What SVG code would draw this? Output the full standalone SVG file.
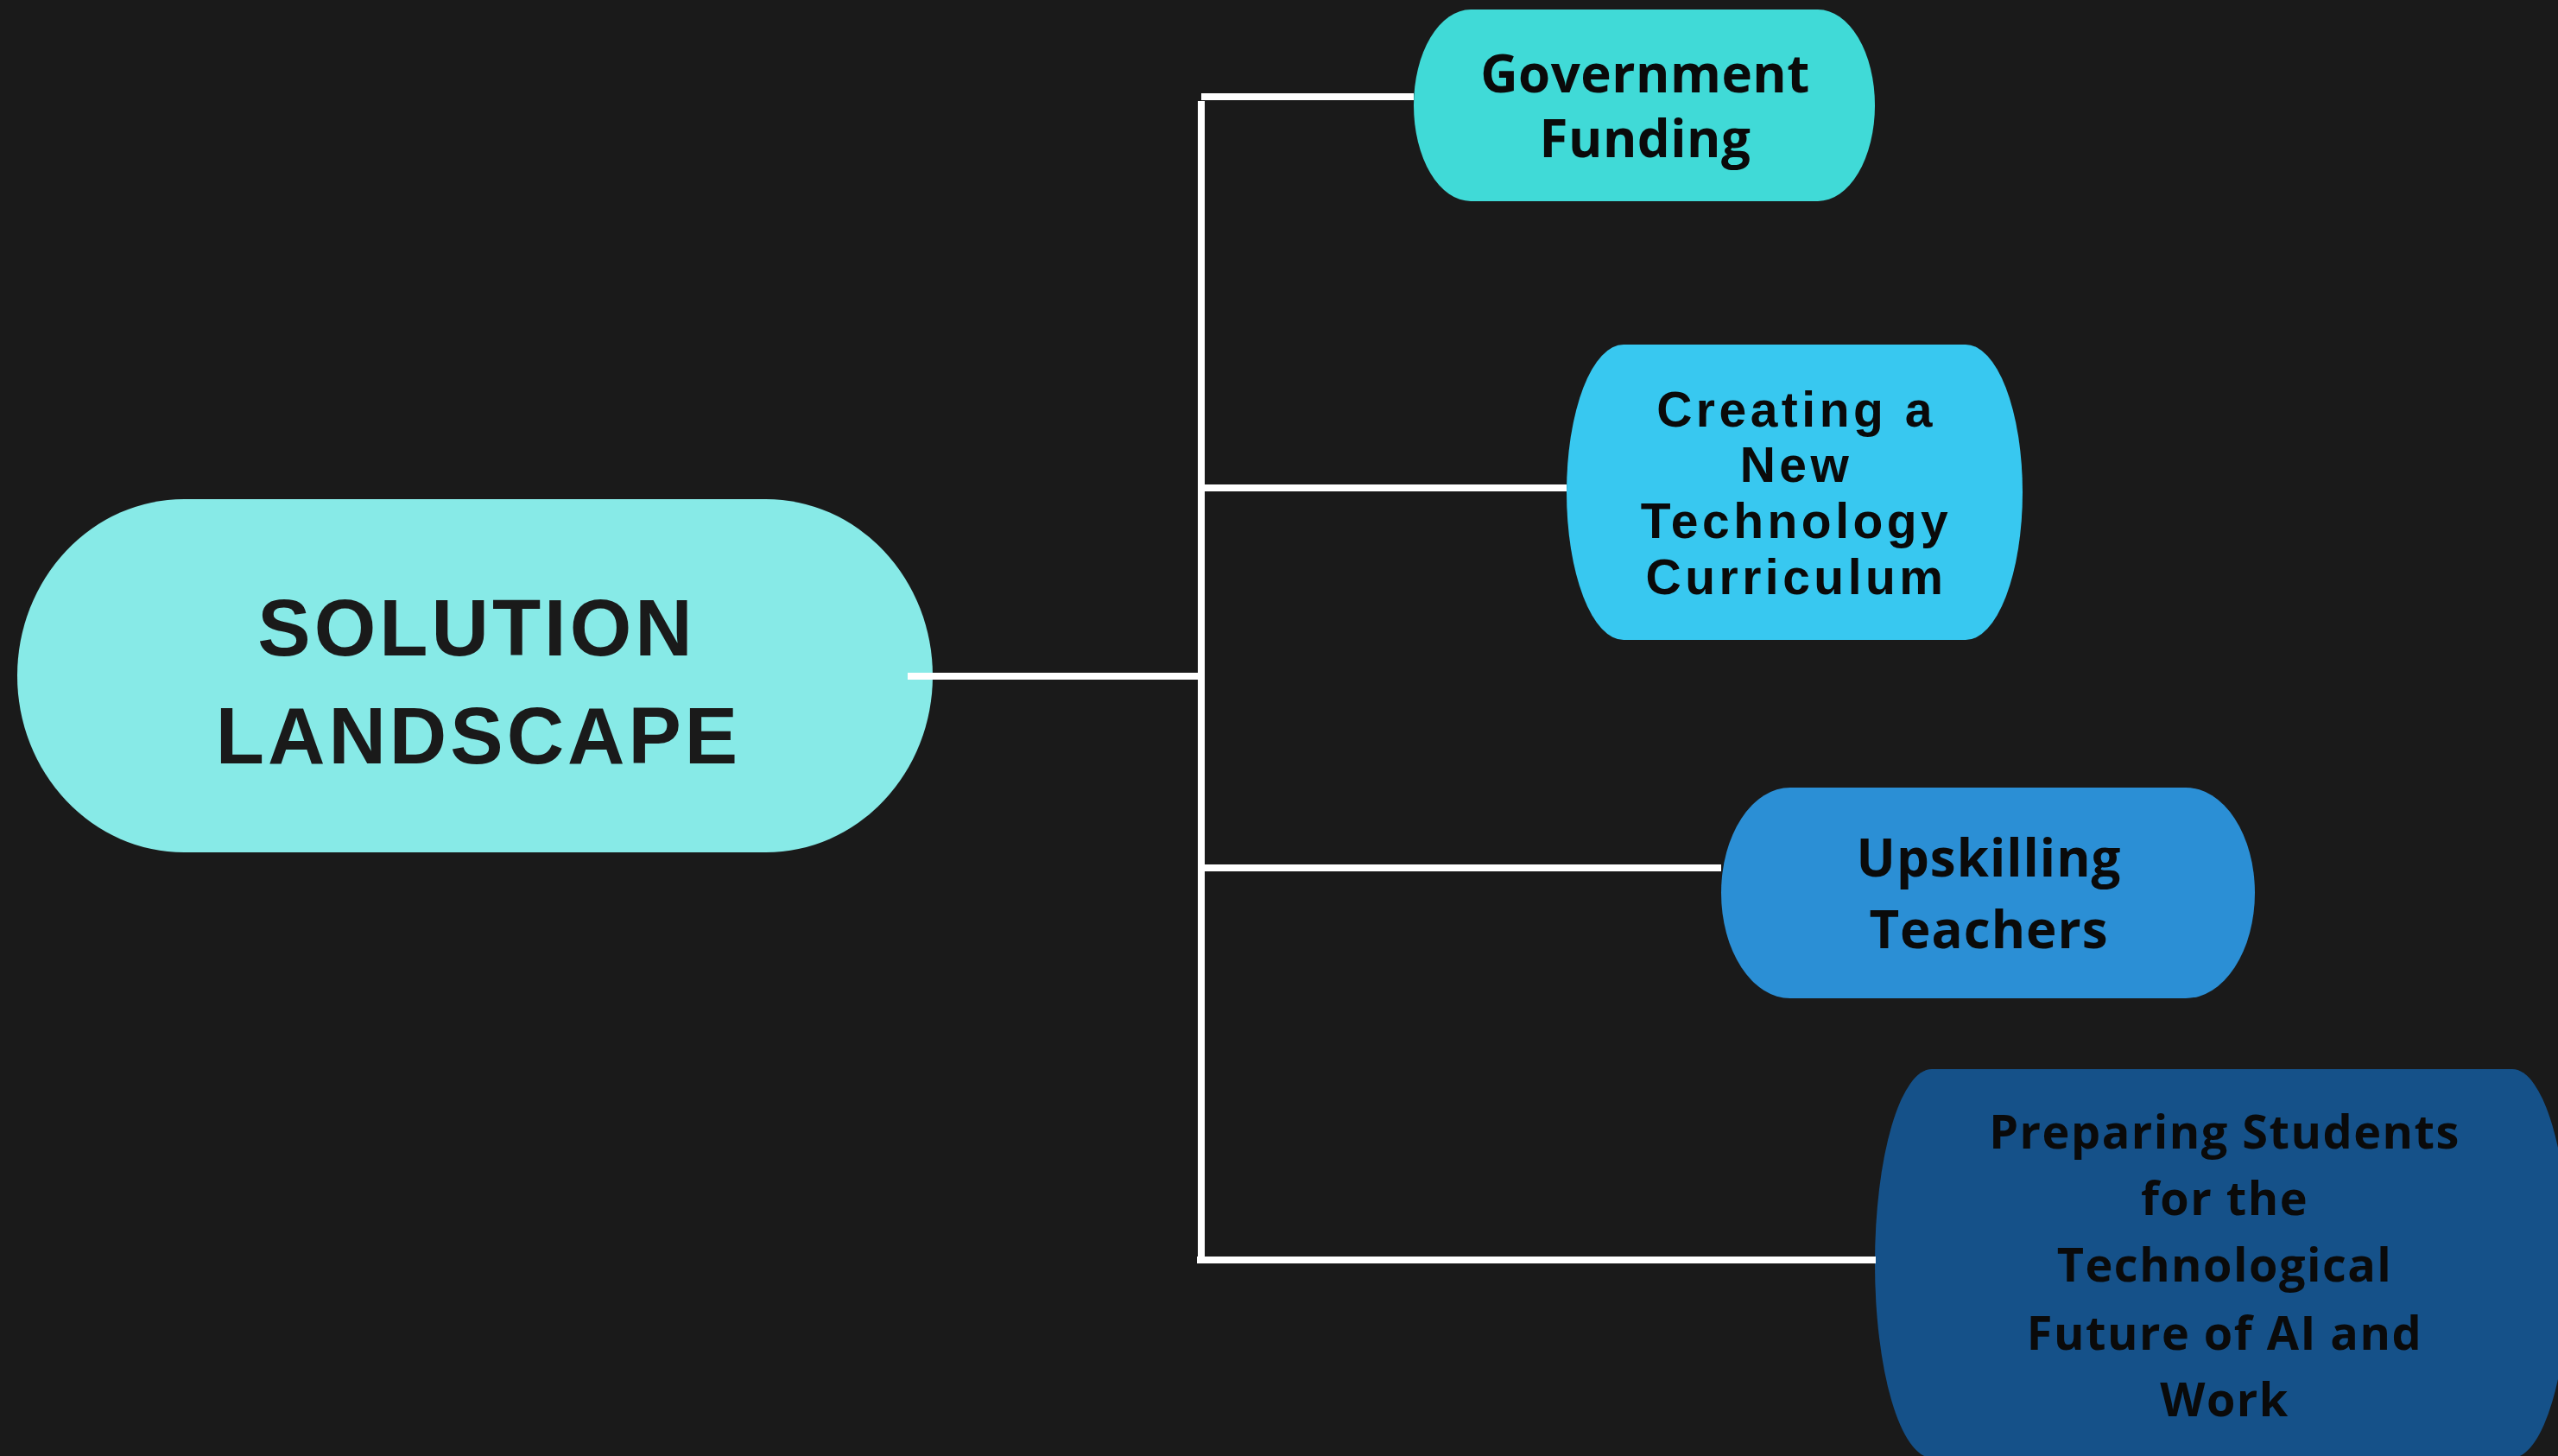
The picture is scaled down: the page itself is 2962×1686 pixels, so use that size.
<svg xmlns="http://www.w3.org/2000/svg" width="2962" height="1686" viewBox="0 0 2962 1686">
<style>
.bg{fill:#1a1a1a}
.lbl{font-family:"Open Sans","Liberation Sans",Arial,sans-serif;font-weight:700;fill:#0a0a0a;text-anchor:middle}
.lib{font-family:"Liberation Sans",Arial,sans-serif}
.main{font-size:92px;letter-spacing:4px;fill:#1a1a1a}
.conn line{stroke:#ffffff;stroke-width:8;stroke-linecap:butt}
</style>
<rect class="bg" x="0" y="0" width="2962" height="1686"/>
<g id="node-solution-landscape">
<rect x="20" y="578" width="1060" height="409" rx="193" ry="204.5" fill="#87eae7"/>
<text class="lbl lib main" x="552" y="759">SOLUTION</text>
<text class="lbl lib main" x="554" y="884">LANDSCAPE</text>
</g>
<g id="node-government-funding">
<rect x="1637" y="11" width="534" height="222" rx="66" ry="111" fill="#40dad7"/>
<text class="lbl" font-size="60" letter-spacing="0.5" x="1905" y="107">Government</text>
<text class="lbl" font-size="60" letter-spacing="0.5" x="1905" y="182">Funding</text>
</g>
<g id="node-creating-curriculum">
<rect x="1814" y="399" width="528" height="342" rx="66" ry="171" fill="#38c8f0"/>
<text class="lbl lib" font-size="57" letter-spacing="4.5" x="2080" y="494">Creating a</text>
<text class="lbl lib" font-size="57" letter-spacing="4.5" x="2080" y="558">New</text>
<text class="lbl lib" font-size="57" letter-spacing="4.5" x="2080" y="623">Technology</text>
<text class="lbl lib" font-size="57" letter-spacing="4.5" x="2080" y="688">Curriculum</text>
</g>
<g id="node-upskilling-teachers">
<rect x="1993" y="912" width="618" height="244" rx="80" ry="122" fill="#2b8fd5"/>
<text class="lbl" font-size="60" letter-spacing="1" x="2303" y="1015">Upskilling</text>
<text class="lbl" font-size="60" letter-spacing="1" x="2303" y="1098">Teachers</text>
</g>
<g id="node-preparing-students">
<rect x="2171" y="1238" width="804" height="450" rx="66" ry="225" fill="#155189"/>
<text class="lbl" font-size="54" letter-spacing="1.5" x="2576" y="1330">Preparing Students</text>
<text class="lbl" font-size="54" letter-spacing="1.5" x="2576" y="1407">for the</text>
<text class="lbl" font-size="54" letter-spacing="1.5" x="2576" y="1484">Technological</text>
<text class="lbl" font-size="54" letter-spacing="1.5" x="2576" y="1563">Future of AI and</text>
<text class="lbl" font-size="54" letter-spacing="1.5" x="2576" y="1640">Work</text>
</g>
<g id="connectors" class="conn">
<line x1="1051" y1="783" x2="1391" y2="783"/>
<line x1="1391" y1="117" x2="1391" y2="1463"/>
<line x1="1391" y1="112" x2="1637" y2="112"/>
<line x1="1391" y1="565" x2="1814" y2="565"/>
<line x1="1391" y1="1005" x2="1993" y2="1005"/>
<line x1="1386" y1="1459" x2="2172" y2="1459"/>
</g>
</svg>
